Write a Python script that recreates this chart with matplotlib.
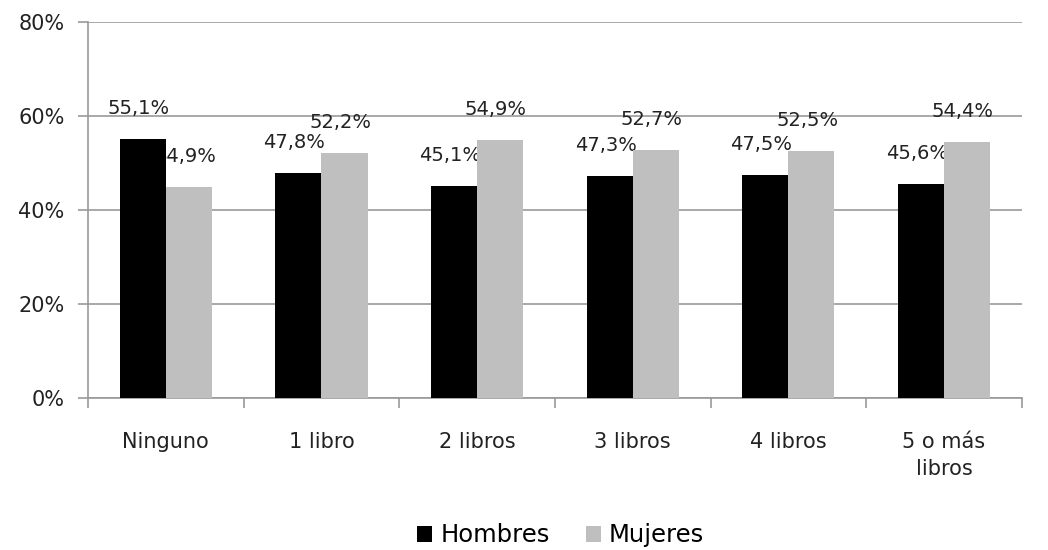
import numpy as np
from matplotlib import pyplot as plt

categories = ["Ninguno", "1 libro", "2 libros", "3 libros", "4 libros", "5 o más\nlibros"]
hombres = [55.1, 47.8, 45.1, 47.3, 47.5, 45.6]
mujeres = [44.9, 52.2, 54.9, 52.7, 52.5, 54.4]
series_names = ["Hombres", "Mujeres"]
colors = ["#000000", "#BFBFBF"]

fig = plt.figure(figsize=(10.48, 5.5), dpi=100)
ax = fig.add_axes([0.084, 0.276, 0.891, 0.684])

x = np.arange(len(categories))
w = 0.296
b1 = ax.bar(x - w / 2, hombres, width=w, color=colors[0], label=series_names[0], zorder=3)
b2 = ax.bar(x + w / 2, mujeres, width=w, color=colors[1], label=series_names[1], zorder=3)

# labels sit behind the bars, like the original where the neighbour bar hides part of one
for bars, vals in [(b1, hombres), (b2, mujeres)]:
    for rect, v in zip(bars, vals):
        ax.annotate(("%.1f%%" % v).replace(".", ","),
                    (rect.get_x() + rect.get_width() / 2, v),
                    xytext=(-3, 22), textcoords="offset points",
                    ha="center", va="center", fontsize=14, color="#222222", zorder=2)

ax.set_ylim(0, 80)
ax.set_xlim(-0.5, len(categories) - 0.5)
ax.set_yticks(np.arange(0, 81, 20))
ax.set_yticklabels([str(t) + "%" for t in range(0, 81, 20)])
ax.yaxis.grid(True, color="#999999", linewidth=1.2, zorder=0)
ax.set_axisbelow(True)

ax.set_xticks(x)
ax.set_xticklabels(categories, linespacing=1.45)
ax.set_xticks(np.arange(-0.5, len(categories), 1), minor=True)
ax.tick_params(axis="x", which="major", length=0, pad=24, labelsize=15, colors="#222222")
ax.tick_params(axis="x", which="minor", length=7, color="#999999", width=1.2)
ax.tick_params(axis="y", length=7, color="#999999", width=1.2, labelsize=15, labelcolor="#222222", pad=10)

for s in ["top", "right"]:
    ax.spines[s].set_visible(False)
for s in ["left", "bottom"]:
    ax.spines[s].set_color("#999999")
    ax.spines[s].set_linewidth(1.2)

fig.legend(loc="lower center", bbox_to_anchor=(0.535, -0.035), ncol=2, frameon=False,
           fontsize=17.5, handlelength=0.6, handleheight=0.6, handletextpad=0.35, columnspacing=1.5)

plt.savefig("out.png", dpi=100)
